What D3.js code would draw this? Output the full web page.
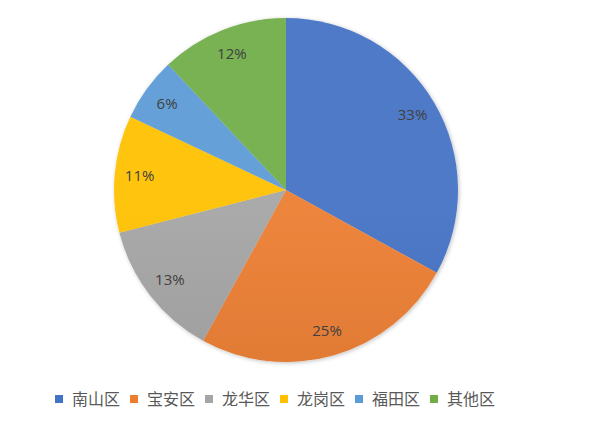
<!DOCTYPE html>
<html><head><meta charset="utf-8">
<script src="https://cdn.jsdelivr.net/npm/d3@7"></script>
<style>body{margin:0;background:#fff}svg{display:block}</style>
</head><body>
<script>
const categories = ["南山区","宝安区","龙华区","龙岗区","福田区","其他区"];
const values = [33, 25, 13, 11, 6, 12];
const colors = ["#4472C4","#ED7D31","#A5A5A5","#FFC000","#5B9BD5","#70AD47"];

const W = 607, H = 426, cx = 286, cy = 190, R = 172;
const svg = d3.select("body").append("svg").attr("width", W).attr("height", H);
const defs = svg.append("defs");
colors.forEach((c, i) => {
  const g = defs.append("linearGradient").attr("id", "g" + i)
    .attr("gradientUnits", "userSpaceOnUse")
    .attr("x1", 0).attr("y1", cy - R).attr("x2", 0).attr("y2", cy + R);
  g.append("stop").attr("offset", 0).attr("stop-color", d3.interpolateRgb(c, "#fff")(0.06));
  g.append("stop").attr("offset", 1).attr("stop-color", d3.interpolateRgb(c, "#000")(0.12));
});
const f = defs.append("filter").attr("id", "sh").attr("x", "-10%").attr("y", "-10%").attr("width", "120%").attr("height", "120%");
f.append("feGaussianBlur").attr("in", "SourceAlpha").attr("stdDeviation", 2);
f.append("feOffset").attr("dx", 1).attr("dy", 1).attr("result", "b");
f.append("feComponentTransfer").append("feFuncA").attr("type", "linear").attr("slope", 0.25);
const m = f.append("feMerge"); m.append("feMergeNode"); m.append("feMergeNode").attr("in", "SourceGraphic");

const pie = d3.pie().sort(null).value(d => d)(values);
const arc = d3.arc().innerRadius(0).outerRadius(R);
const lab = d3.arc().innerRadius(147).outerRadius(147);
const g = svg.append("g").attr("transform", `translate(${cx},${cy})`);
g.append("g").attr("filter", "url(#sh)").selectAll("path").data(pie).join("path")
  .attr("d", arc).attr("fill", (d, i) => `url(#g${i})`);
g.selectAll("text").data(pie).join("text")
  .attr("transform", d => `translate(${lab.centroid(d)})`)
  .attr("text-anchor", "middle").attr("dy", "0.35em")
  .attr("font-family", "'Open Sans', Lato, sans-serif").attr("font-size", 15)
  .attr("fill", "#404040").text(d => d.value + "%");

const x = d3.scaleBand().domain(categories).range([55, 505]);
const lg = svg.append("g").selectAll("g").data(categories).join("g")
  .attr("transform", d => `translate(${x(d)},399)`);
lg.append("rect").attr("x", 0).attr("y", -4).attr("width", 8).attr("height", 8)
  .attr("fill", (d, i) => colors[i]);
lg.append("text").attr("x", 17).attr("dy", "0.35em")
  .attr("font-family", "'Noto Sans CJK SC', sans-serif").attr("font-size", 16)
  .attr("fill", "#595959").text(d => d);
</script>
</body></html>
